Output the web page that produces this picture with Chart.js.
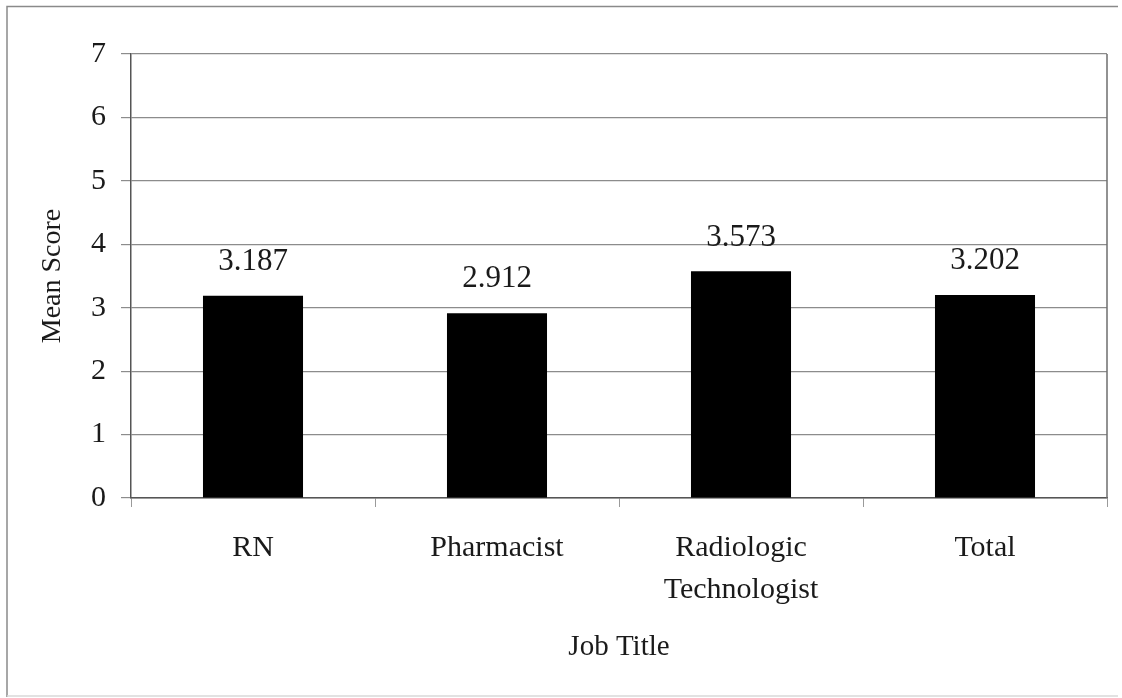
<!DOCTYPE html>
<html>
<head>
<meta charset="utf-8">
<script src="https://cdn.jsdelivr.net/npm/chart.js@4/dist/chart.umd.min.js"></script>
<style>
  html, body { margin: 0; padding: 0; background: #ffffff; }
  #wrap { width: 1122px; height: 698px; position: relative; }
</style>
</head>
<body>
<div id="wrap"><canvas id="chart" width="1122" height="698"></canvas></div>
<script>
// Mean score by job title
const categories = ['RN', 'Pharmacist', ['Radiologic', 'Technologist'], 'Total'];
const meanScores = [3.187, 2.912, 3.573, 3.202];
const yTicks = [0, 1, 2, 3, 4, 5, 6, 7];

const FONT = "'Liberation Serif', 'Times New Roman', serif";
const TEXT = '#1a1a1a';

// Outer frame, right edge of the plot area, and value labels above the bars
const decorations = {
  id: 'decorations',
  beforeDraw(chart) {
    const ctx = chart.ctx;
    ctx.save();
    ctx.fillStyle = '#ffffff';
    ctx.fillRect(0, 0, chart.width, chart.height);
    ctx.lineWidth = 1.5;
    ctx.strokeStyle = '#8a8a8a';
    ctx.beginPath();
    ctx.moveTo(7, 697);
    ctx.lineTo(7, 6.5);
    ctx.lineTo(1118, 6.5);
    ctx.stroke();
    ctx.strokeStyle = '#d8d8d8';
    ctx.beginPath();
    ctx.moveTo(7, 696);
    ctx.lineTo(1118, 696);
    ctx.stroke();
    ctx.restore();
  },
  afterDraw(chart) {
    const ctx = chart.ctx;
    const area = chart.chartArea;
    ctx.save();
    ctx.strokeStyle = '#6e6e6e';
    ctx.lineWidth = 1.5;
    ctx.beginPath();
    ctx.moveTo(area.right, area.top);
    ctx.lineTo(area.right, area.bottom);
    ctx.stroke();

    const meta = chart.getDatasetMeta(0);
    const values = chart.data.datasets[0].data;
    ctx.fillStyle = TEXT;
    ctx.font = '31px ' + FONT;
    ctx.textAlign = 'center';
    ctx.textBaseline = 'middle';
    meta.data.forEach((bar, i) => {
      ctx.fillText(values[i].toFixed(3), bar.x, bar.y - 34);
    });
    ctx.restore();
  }
};

new Chart(document.getElementById('chart'), {
  type: 'bar',
  data: {
    labels: categories,
    datasets: [{
      data: meanScores,
      backgroundColor: '#000000',
      borderWidth: 0,
      categoryPercentage: 1.0,
      barPercentage: 0.41
    }]
  },
  options: {
    responsive: false,
    animation: false,
    devicePixelRatio: 1,
    layout: { padding: { top: 54, right: 15, left: 0, bottom: 0 } },
    plugins: {
      legend: { display: false },
      tooltip: { enabled: false }
    },
    scales: {
      x: {
        grid: {
          offset: true,
          drawOnChartArea: false,
          drawTicks: true,
          tickLength: 9,
          color: '#9a9a9a',
          lineWidth: 1
        },
        border: { display: true, color: '#555555', width: 1.5 },
        ticks: {
          color: TEXT,
          font: { family: FONT, size: 30, lineHeight: 1.4 },
          padding: 20,
          maxRotation: 0,
          autoSkip: false
        },
        title: {
          display: true,
          text: 'Job Title',
          color: TEXT,
          font: { family: FONT, size: 29, lineHeight: 1.2 },
          padding: { top: 0, bottom: 33 }
        },
        afterFit(scale) { scale.height = 200; }
      },
      y: {
        min: 0,
        max: 7,
        afterBuildTicks(scale) { scale.ticks = yTicks.map(v => ({ value: v })); },
        grid: {
          color: '#8c8c8c',
          lineWidth: 1.2,
          drawTicks: true,
          tickLength: 10
        },
        border: { display: true, color: '#555555', width: 1.5 },
        ticks: {
          color: TEXT,
          font: { family: FONT, size: 30 },
          padding: 15
        },
        title: {
          display: true,
          text: 'Mean Score',
          color: TEXT,
          font: { family: FONT, size: 28, lineHeight: 1.2 },
          padding: { top: 36, bottom: 0 }
        },
        afterFit(scale) { scale.width = 131; }
      }
    }
  },
  plugins: [decorations]
});
</script>
</body>
</html>
